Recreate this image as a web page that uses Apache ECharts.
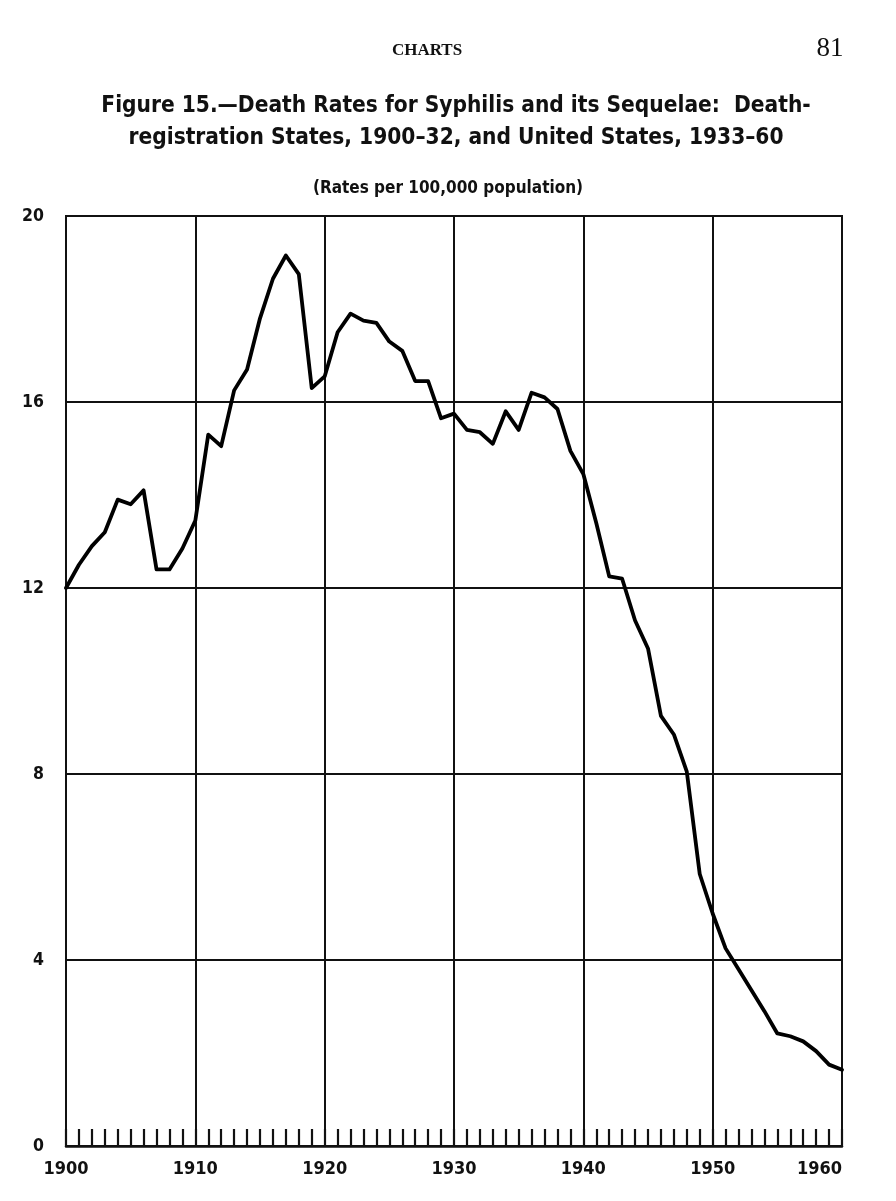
<!DOCTYPE html>
<html>
<head>
<meta charset="utf-8">
<script src="https://cdn.jsdelivr.net/npm/echarts@6/dist/echarts.min.js"></script>
<style>
html,body{margin:0;padding:0;background:#fff;}
#chart{width:896px;height:1201px;}
</style>
</head>
<body>
<div id="chart"></div>
<script>
const years = [1900,1901,1902,1903,1904,1905,1906,1907,1908,1909,
  1910,1911,1912,1913,1914,1915,1916,1917,1918,1919,
  1920,1921,1922,1923,1924,1925,1926,1927,1928,1929,
  1930,1931,1932,1933,1934,1935,1936,1937,1938,1939,
  1940,1941,1942,1943,1944,1945,1946,1947,1948,1949,
  1950,1951,1952,1953,1954,1955,1956,1957,1958,1959,1960];
const deathRates = [12.0,12.5,12.9,13.2,13.9,13.8,14.1,12.4,12.4,12.85,
  13.45,15.3,15.05,16.25,16.7,17.8,18.65,19.15,18.75,16.3,
  16.55,17.5,17.9,17.75,17.7,17.3,17.1,16.45,16.45,15.65,
  15.75,15.4,15.35,15.1,15.8,15.4,16.2,16.1,15.85,14.95,
  14.45,13.4,12.25,12.2,11.3,10.7,9.25,8.85,8.05,5.85,
  5.0,4.25,3.8,3.35,2.9,2.42,2.36,2.25,2.04,1.75,1.64];
const xTickLabels = ['1900','1910','1920','1930','1940','1950','1960'];
const yTickLabels = ['0','4','8','12','16','20'];
const pageHeader = 'CHARTS';
const pageNumber = '81';
const titleText = 'Figure 15.\u2014Death Rates for Syphilis and its Sequelae:  Death-\nregistration States, 1900\u201332, and United States, 1933\u201360';
const subtitleText = '(Rates per 100,000 population)';

const narrow = "'Liberation Sans Narrow','DejaVu Sans Condensed','Roboto Condensed',sans-serif";
const chart = echarts.init(document.getElementById('chart'), null, {renderer:'canvas'});
const seriesData = years.map((y,i)=>[y, deathRates[i]]);

chart.setOption({
  backgroundColor:'#fff',
  animation:false,
  title:[
    {text: pageHeader, left: 422, top: 37, textAlign:'center',
     textStyle:{fontFamily:"'Liberation Serif','DejaVu Serif',serif", fontSize:17, fontWeight:'bold', color:'#111'}},
    {text: pageNumber, left: 825, top: 30, textAlign:'center',
     textStyle:{fontFamily:"'Liberation Serif','DejaVu Serif',serif", fontSize:27, fontWeight:'normal', color:'#111'}},
    {text: titleText, left: 451, top: 85, textAlign:'center',
     textStyle:{fontFamily: narrow, fontSize:22.5, fontWeight:'bold', color:'#111', lineHeight:32, align:'center'}},
    {text: subtitleText, left: 443, top: 175, textAlign:'center',
     textStyle:{fontFamily: narrow, fontSize:17, fontWeight:'bold', color:'#111'}}
  ],
  grid:{left:66, right:54, top:216, bottom:55, show:true, borderColor:'#111', borderWidth:2, containLabel:false},
  xAxis:{
    type:'value', min:1900, max:1960, interval:10,
    axisLine:{show:true, lineStyle:{color:'#111', width:2.5}},
    axisTick:{show:true, inside:true, length:17, lineStyle:{color:'#111', width:2.2}},
    minorTick:{show:true, splitNumber:10, length:17, lineStyle:{color:'#111', width:2.2}},
    splitLine:{show:true, lineStyle:{color:'#111', width:2}},
    axisLabel:{margin:14, color:'#111', fontFamily:narrow, fontWeight:'bold', fontSize:18,
      alignMaxLabel:'right',
      formatter:(v)=>{const s=String(v); return xTickLabels.includes(s)?s:'';}}
  },
  yAxis:{
    type:'value', min:0, max:20, interval:4,
    axisLine:{show:true, lineStyle:{color:'#111', width:2}},
    axisTick:{show:false},
    splitLine:{show:true, lineStyle:{color:'#111', width:2}},
    axisLabel:{margin:22, color:'#111', fontFamily:narrow, fontWeight:'bold', fontSize:17.5,
      formatter:(v)=>{const s=String(v); return yTickLabels.includes(s)?s:'';}}
  },
  series:[{
    type:'line', data: seriesData, showSymbol:false, symbol:'none',
    lineStyle:{color:'#000', width:3.8, join:'round', cap:'round'},
    z:5
  }]
});
</script>
</body>
</html>
